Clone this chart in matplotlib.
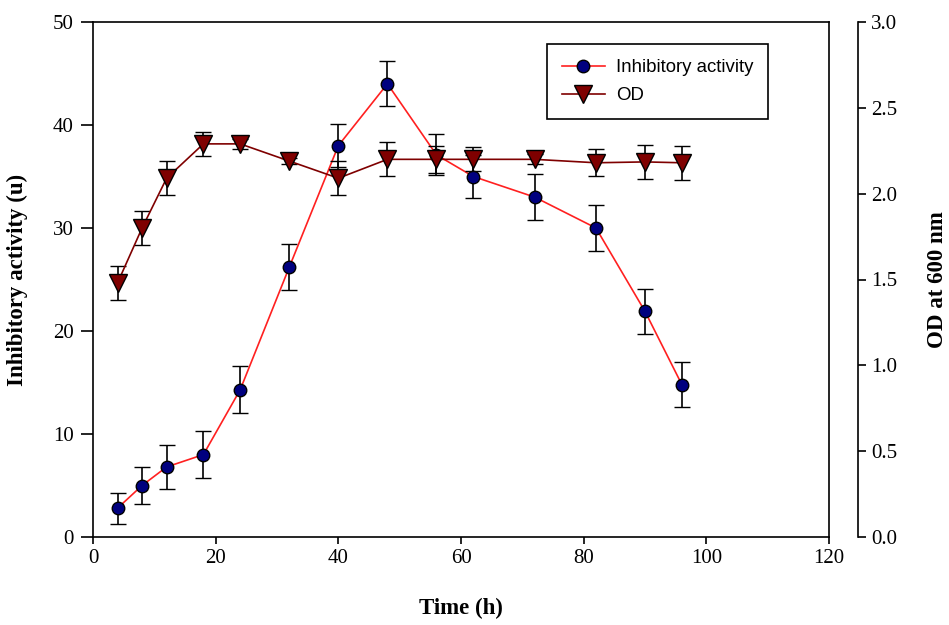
import matplotlib
matplotlib.use('Agg')
import matplotlib.pyplot as plt
from matplotlib.lines import Line2D
import numpy as np

# data
time_h = [4, 8, 12, 18, 24, 32, 40, 48, 56, 62, 72, 82, 90, 96]
activity = [2.8, 5.0, 6.8, 8.0, 14.3, 26.2, 38.0, 44.0, 37.1, 35.0, 33.0, 30.0, 21.9, 14.8]
activity_err = [1.5, 1.8, 2.1, 2.3, 2.3, 2.2, 2.1, 2.2, 2.0, 2.1, 2.2, 2.2, 2.2, 2.2]
od = [1.48, 1.80, 2.09, 2.29, 2.29, 2.19, 2.09, 2.20, 2.20, 2.20, 2.20, 2.18, 2.185, 2.18]
od_err = [0.10, 0.10, 0.10, 0.07, 0.03, 0.02, 0.10, 0.10, 0.08, 0.07, 0.03, 0.08, 0.10, 0.10]

serif = ['Liberation Serif', 'DejaVu Serif']
sans = ['Liberation Sans', 'DejaVu Sans']

act_style = dict(color='#ff2020', lw=1.2, marker='o', ms=9, mfc='#00007f', mec='black', mew=1.0)
od_style = dict(color='#7f0000', lw=1.2, marker='v', ms=13, mfc='#7f0000', mec='black', mew=1.0)

fig = plt.figure(figsize=(9.49, 6.25), dpi=100)
ax = fig.add_axes([0.098, 0.1408, 0.7756, 0.824])

ax.errorbar(time_h, activity, yerr=activity_err, ecolor='black', elinewidth=1.2,
            capsize=5.5, capthick=1.2, zorder=3, **act_style)

ax.set_xlim(0, 120)
ax.set_ylim(0, 50)
ax.set_xticks(np.arange(0, 121, 20))
ax.set_yticks(np.arange(0, 51, 10))
ax.tick_params(direction='out', width=1.2, labelsize=15, top=False)
ax.tick_params(axis='x', length=5)
ax.tick_params(axis='y', length=9, pad=5, right=True)
for lab in ax.get_xticklabels() + ax.get_yticklabels():
    lab.set_family(serif)
for sp in ax.spines.values():
    sp.set_linewidth(1.2)
ax.set_xlabel('Time (h)', fontsize=16.5, fontweight='bold', family=serif, labelpad=22)
ax.set_ylabel('Inhibitory activity (u)', fontsize=16.5, fontweight='bold', family=serif, labelpad=18)

ax2 = ax.twinx()
ax2.errorbar(time_h, od, yerr=od_err, ecolor='black', elinewidth=1.2,
             capsize=5.5, capthick=1.2, zorder=3, **od_style)
ax2.set_ylim(0, 3.0)
ax2.set_yticks(np.arange(0, 3.01, 0.5))
ax2.set_yticklabels([f'{v:.1f}' for v in np.arange(0, 3.01, 0.5)])
ax2.spines['right'].set_position(('outward', 21))
ax2.spines['right'].set_linewidth(1.2)
for s in ['top', 'left', 'bottom']:
    ax2.spines[s].set_visible(False)
ax2.tick_params(direction='out', length=6, width=1.2, labelsize=15)
for lab in ax2.get_yticklabels():
    lab.set_family(serif)
ax2.set_ylabel('OD at 600 nm', fontsize=16.5, fontweight='bold', family=serif, labelpad=21)

handles = [Line2D([], [], **act_style), Line2D([], [], **od_style)]
leg = ax2.legend(handles, ['Inhibitory activity', 'OD'], loc='upper left',
                 bbox_to_anchor=(0.617, 0.957), borderaxespad=0,
                 prop={'family': sans, 'size': 13.4}, fancybox=False, framealpha=1,
                 edgecolor='black', handlelength=2.3, handletextpad=0.6,
                 borderpad=0.8, labelspacing=0.6)
leg.get_frame().set_linewidth(1.2)

fig.savefig('out.png', dpi=100)
